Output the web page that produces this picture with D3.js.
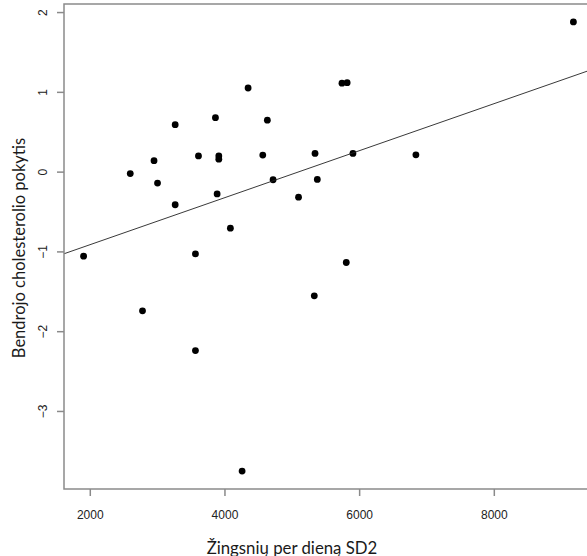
<!DOCTYPE html>
<html>
<head>
<meta charset="utf-8">
<script src="https://cdn.jsdelivr.net/npm/d3@7"></script>
<style>
  body { margin: 0; background: #fff; }
  svg { display: block; }
</style>
</head>
<body>
<div id="chart"></div>
<script>
// steps per day (SD2) and change of total cholesterol
var steps = [1908, 2601, 2954, 3006, 3268, 3268, 2783, 3569, 3614, 3569,
             3866, 3916, 3916, 3891, 4088, 4351, 4569, 4637, 4722, 4262,
             5100, 5345, 5379, 5334, 5745, 5822, 5809, 5908, 6843, 9182];
var cholChange = [-1.060, -0.025, 0.137, -0.144, 0.588, -0.415, -1.745, -1.030, 0.197, -2.243,
                  0.676, 0.197, 0.156, -0.280, -0.709, 1.048, 0.207, 0.645, -0.102, -3.753,
                  -0.320, 0.228, -0.098, -1.557, 1.109, 1.115, -1.139, 0.228, 0.210, 1.876];
var xTicks = [2000, 4000, 6000, 8000];
var yTicks = [2, 1, 0, -1, -2, -3];
// intercept, slope of the fitted line
var fitCoef = [-1.506, 0.0002946];

var width = 587, height = 556;
// plot region (right edge falls just outside the picture)
var plotL = 64, plotR = 593, plotT = 4, plotB = 489;

var svg = d3.select("#chart").append("svg")
    .attr("width", width)
    .attr("height", height);

// R style: 4% padding around data range
function padded(arr) {
  var e = d3.extent(arr), r = e[1] - e[0];
  return [e[0] - 0.04 * r, e[1] + 0.04 * r];
}

var x = d3.scaleLinear().domain(padded(steps)).range([plotL, plotR]);
var y = d3.scaleLinear().domain(padded(cholChange)).range([plotB, plotT]);

var axisColor = "#8a8a8a";

// points
var data = steps.map(function(s, i) { return {x: s, y: cholChange[i]}; });
svg.append("g").selectAll("circle")
    .data(data)
  .enter().append("circle")
    .attr("cx", function(d) { return x(d.x); })
    .attr("cy", function(d) { return y(d.y); })
    .attr("r", 3.4)
    .attr("fill", "#000");

// regression line across the plot region
var x0 = x.domain()[0], x1 = x.domain()[1];
svg.append("line")
    .attr("x1", x(x0)).attr("y1", y(fitCoef[0] + fitCoef[1] * x0))
    .attr("x2", x(x1)).attr("y2", y(fitCoef[0] + fitCoef[1] * x1))
    .attr("stroke", "#222")
    .attr("stroke-width", 0.9);

// box
svg.append("rect")
    .attr("x", plotL).attr("y", plotT)
    .attr("width", plotR - plotL).attr("height", plotB - plotT)
    .attr("fill", "none")
    .attr("stroke", axisColor)
    .attr("stroke-width", 1.5);

// x axis
var xAxis = d3.axisBottom(x).tickValues(xTicks).tickSize(7).tickFormat(d3.format("d"));
var gx = svg.append("g").attr("transform", "translate(0," + plotB + ")").call(xAxis);
gx.select(".domain").remove();
gx.selectAll(".tick line").attr("stroke", axisColor).attr("stroke-width", 1.5);
gx.selectAll(".tick text")
    .attr("y", 21)
    .attr("fill", "#222")
    .style("font-family", "'Liberation Sans', Arial, sans-serif")
    .style("font-size", "12px");

// y axis with rotated labels
var yAxis = d3.axisLeft(y).tickValues(yTicks).tickSize(7).tickFormat(d3.format("d"));
var gy = svg.append("g").attr("transform", "translate(" + plotL + ",0)").call(yAxis);
gy.select(".domain").remove();
gy.selectAll(".tick line").attr("stroke", axisColor).attr("stroke-width", 1.5);
gy.selectAll(".tick text")
    .attr("x", 0).attr("dy", 0)
    .attr("transform", "translate(-21,0) rotate(-90)")
    .attr("text-anchor", "middle")
    .attr("dominant-baseline", "central")
    .attr("fill", "#222")
    .style("font-family", "'Liberation Sans', Arial, sans-serif")
    .style("font-size", "12px");

// axis titles
svg.append("text")
    .attr("x", 292)
    .attr("y", 547)
    .attr("text-anchor", "middle")
    .attr("dominant-baseline", "central")
    .attr("fill", "#1a1a1a")
    .style("font-family", "Lato, 'Open Sans', sans-serif")
    .style("font-size", "16.8px")
    .text("Žingsnių per dieną SD2");

svg.append("text")
    .attr("transform", "translate(19,248) rotate(-90)")
    .attr("text-anchor", "middle")
    .attr("dominant-baseline", "central")
    .attr("fill", "#1a1a1a")
    .style("font-family", "Lato, 'Open Sans', sans-serif")
    .style("font-size", "16.5px")
    .text("Bendrojo cholesterolio pokytis");
</script>
</body>
</html>
